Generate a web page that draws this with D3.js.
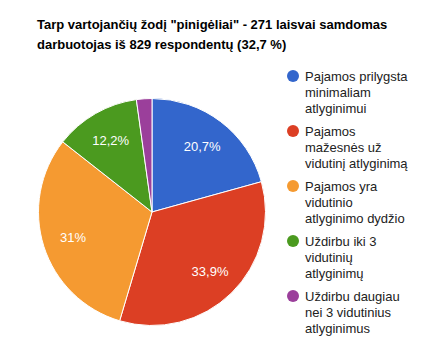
<!DOCTYPE html>
<html><head><meta charset="utf-8">
<script src="https://cdn.jsdelivr.net/npm/d3@7"></script>
<style>body{margin:0;background:#fff}svg{display:block;font-family:Arial,"Liberation Sans",sans-serif}</style>
</head><body>
<svg id="c" width="428" height="355"></svg>
<script>
const titleLines = ['Tarp vartojančių žodį "pinigėliai" - 271 laisvai samdomas', 'darbuotojas iš 829 respondentų (32,7 %)'];
const categories = [
  ["Pajamos prilygsta", "minimaliam", "atlyginimui"],
  ["Pajamos", "mažesnės už", "vidutinį atlyginimą"],
  ["Pajamos yra", "vidutinio", "atlyginimo dydžio"],
  ["Uždirbu iki 3", "vidutinių", "atlyginimų"],
  ["Uždirbu daugiau", "nei 3 vidutinius", "atlyginimus"]
];
const values = [20.7, 33.9, 31.0, 12.2, 2.2];
const valueLabels = ["20,7%", "33,9%", "31%", "12,2%", ""];
const colors = ["#3366cc", "#dc3f24", "#f59a31", "#4b9a1f", "#9b3f9b"];

const svg = d3.select("#c");
svg.append("g").selectAll("text").data(titleLines).join("text")
  .attr("x", 37).attr("y", (d,i)=>29 + i*20)
  .attr("font-size", 13).attr("font-weight", "bold").attr("fill", "#000")
  .text(d=>d);

const cx = 152, cy = 212, R = 113.5;
const pie = d3.pie().sort(null).value(d=>d);
const arc = d3.arc().innerRadius(0).outerRadius(R);
const labelArc = d3.arc().innerRadius(R*0.73).outerRadius(R*0.73);
const g = svg.append("g").attr("transform", `translate(${cx},${cy})`);
const arcs = pie(values);
g.selectAll("path").data(arcs).join("path")
  .attr("d", arc).attr("fill", (d,i)=>colors[i])
  .attr("stroke", "#fff").attr("stroke-width", 1);
g.selectAll("text").data(arcs).join("text")
  .attr("transform", d=>`translate(${labelArc.centroid(d)})`)
  .attr("text-anchor", "middle").attr("dy", "0.35em")
  .attr("font-size", 13).attr("fill", "#fff")
  .text((d,i)=>valueLabels[i]);

const legendY = d3.scaleLinear().domain([0, 1]).range([76, 131]);
const lg = svg.append("g").selectAll("g").data(categories).join("g")
  .attr("transform", (d,i)=>`translate(293,${legendY(i)})`);
lg.append("circle").attr("r", 6).attr("fill", (d,i)=>colors[i]);
lg.append("text").attr("x", 12).attr("font-size", 13).attr("fill", "#222")
  .selectAll("tspan").data(d=>d).join("tspan")
  .attr("x", 12).attr("y", (d,j)=>j*16).attr("dy", "0.35em").text(d=>d);
</script>
</body></html>
